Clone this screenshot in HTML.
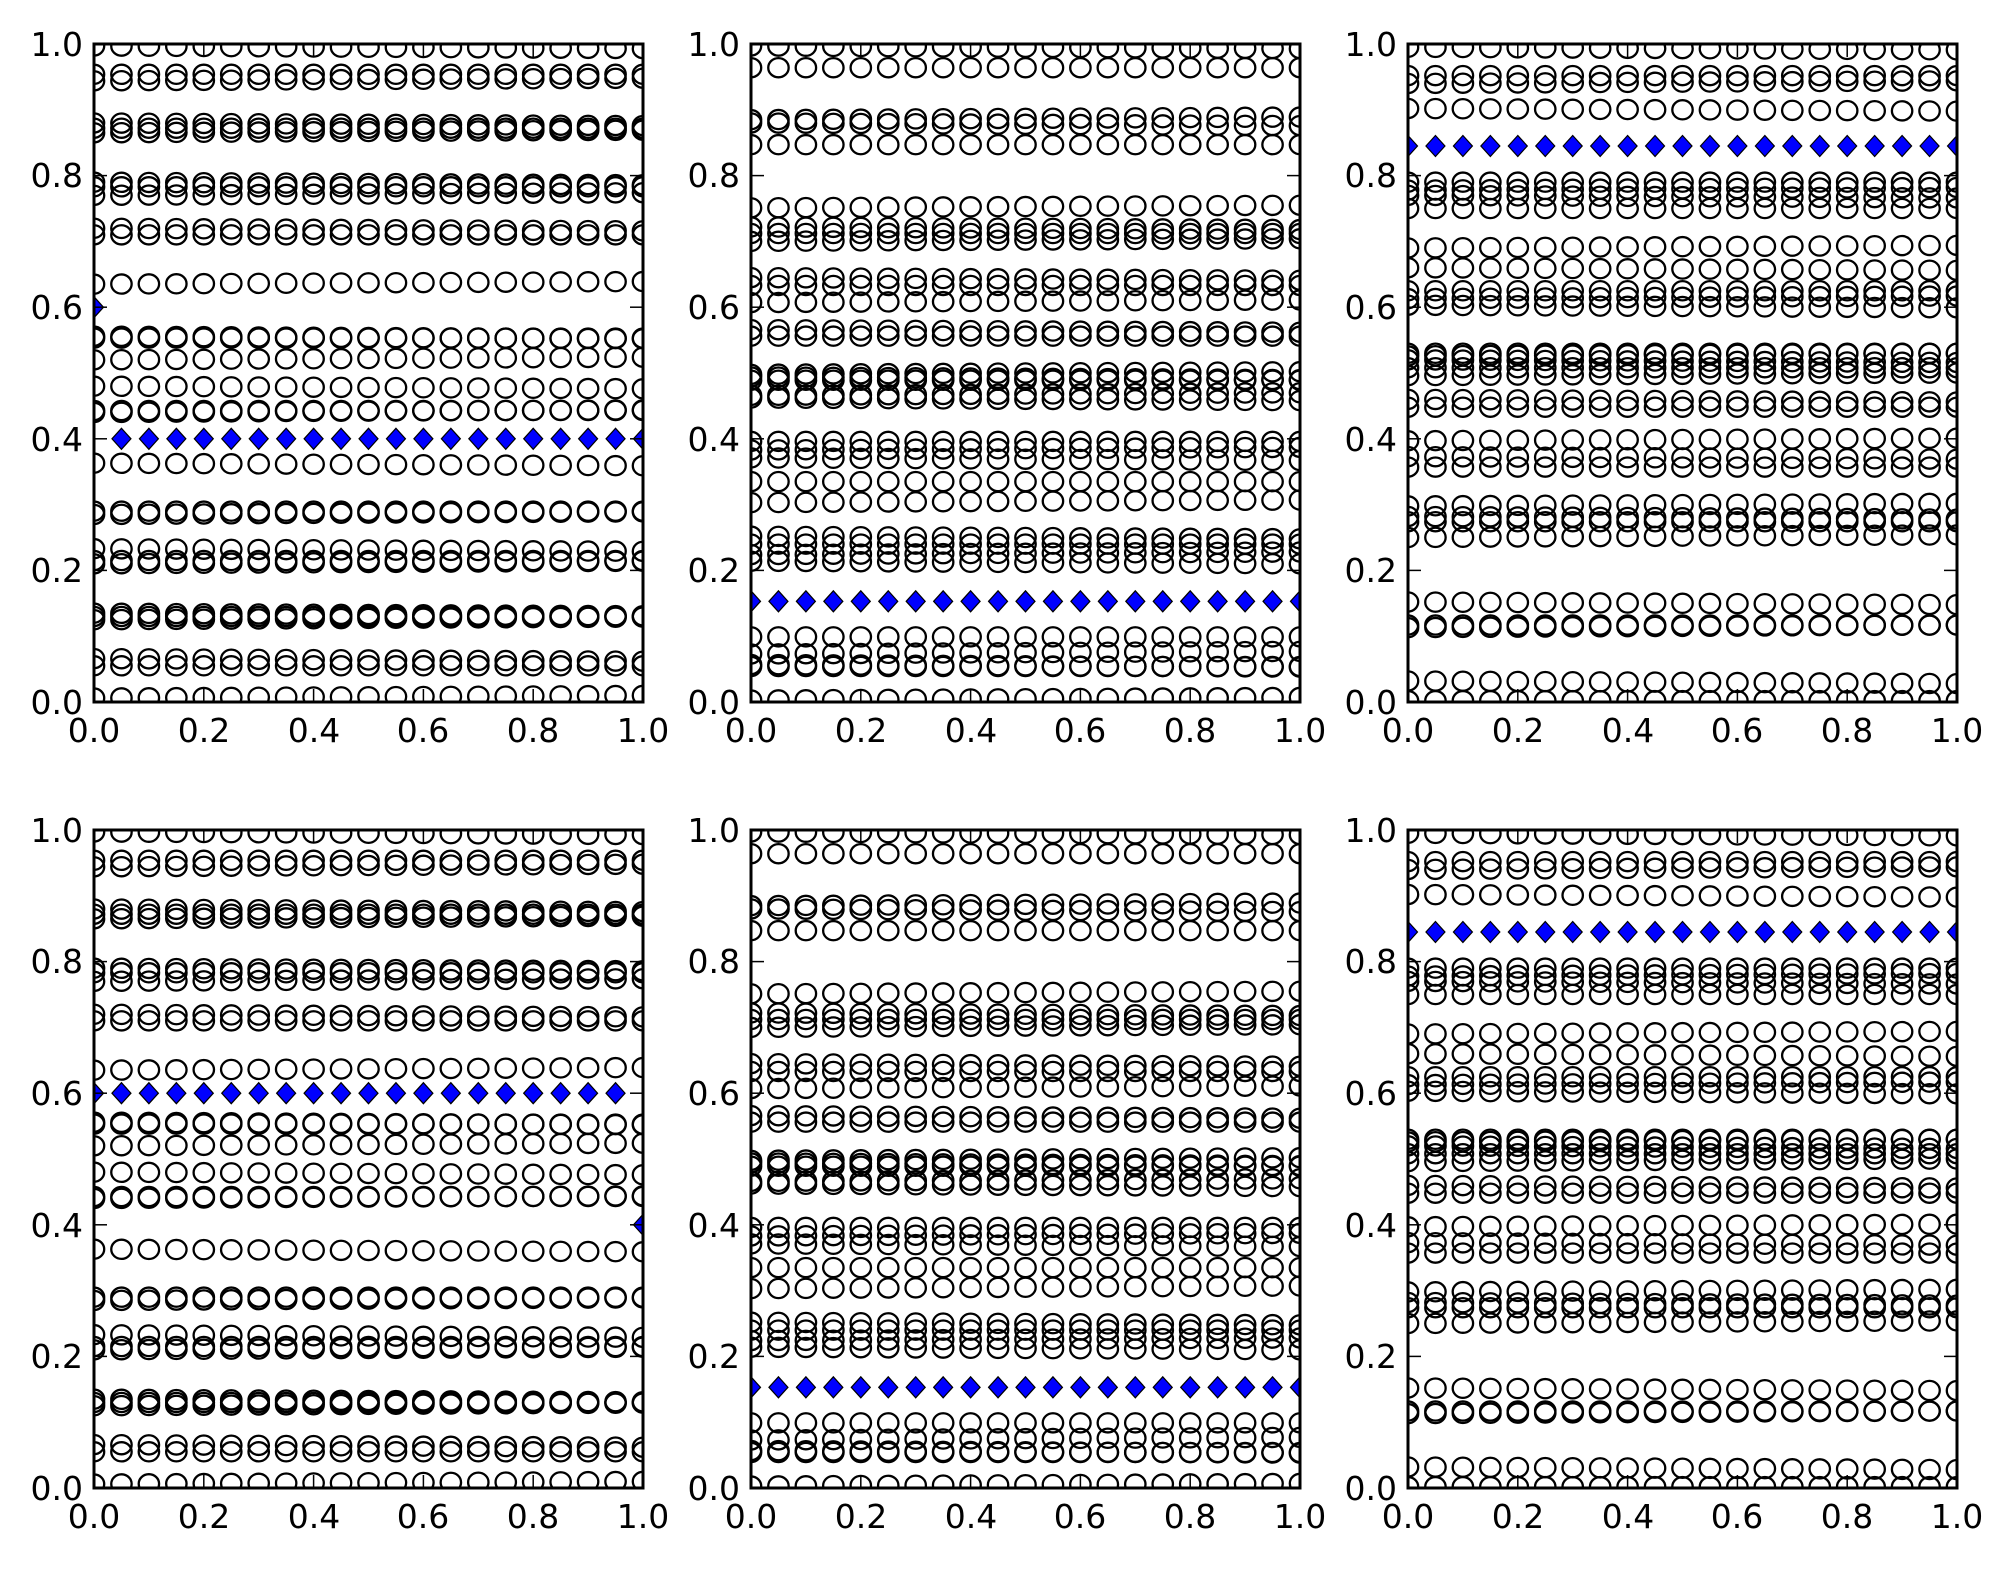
<!DOCTYPE html>
<html><head><meta charset="utf-8"><style>
html,body{margin:0;padding:0;background:#fff;}
svg text{font-family:"DejaVu Sans","Liberation Sans",sans-serif;font-size:33px;fill:#000;}
</style></head><body>
<svg id="s" width="2004" height="1565" xmlns="http://www.w3.org/2000/svg">
<rect width="2004" height="1565" fill="#fff"/>
<g id="lbl">
<text x="83" y="56" text-anchor="end">1.0</text><text x="83" y="187" text-anchor="end">0.8</text><text x="83" y="319" text-anchor="end">0.6</text><text x="83" y="451" text-anchor="end">0.4</text><text x="83" y="582" text-anchor="end">0.2</text><text x="83" y="714" text-anchor="end">0.0</text>
<text x="94" y="742" text-anchor="middle">0.0</text><text x="204" y="742" text-anchor="middle">0.2</text><text x="314" y="742" text-anchor="middle">0.4</text><text x="423" y="742" text-anchor="middle">0.6</text><text x="533" y="742" text-anchor="middle">0.8</text><text x="643" y="742" text-anchor="middle">1.0</text>
<text x="740" y="56" text-anchor="end">1.0</text><text x="740" y="187" text-anchor="end">0.8</text><text x="740" y="319" text-anchor="end">0.6</text><text x="740" y="451" text-anchor="end">0.4</text><text x="740" y="582" text-anchor="end">0.2</text><text x="740" y="714" text-anchor="end">0.0</text>
<text x="751" y="742" text-anchor="middle">0.0</text><text x="861" y="742" text-anchor="middle">0.2</text><text x="971" y="742" text-anchor="middle">0.4</text><text x="1080" y="742" text-anchor="middle">0.6</text><text x="1190" y="742" text-anchor="middle">0.8</text><text x="1300" y="742" text-anchor="middle">1.0</text>
<text x="1397" y="56" text-anchor="end">1.0</text><text x="1397" y="187" text-anchor="end">0.8</text><text x="1397" y="319" text-anchor="end">0.6</text><text x="1397" y="451" text-anchor="end">0.4</text><text x="1397" y="582" text-anchor="end">0.2</text><text x="1397" y="714" text-anchor="end">0.0</text>
<text x="1408" y="742" text-anchor="middle">0.0</text><text x="1518" y="742" text-anchor="middle">0.2</text><text x="1628" y="742" text-anchor="middle">0.4</text><text x="1737" y="742" text-anchor="middle">0.6</text><text x="1847" y="742" text-anchor="middle">0.8</text><text x="1957" y="742" text-anchor="middle">1.0</text>
<text x="83" y="842" text-anchor="end">1.0</text><text x="83" y="973" text-anchor="end">0.8</text><text x="83" y="1105" text-anchor="end">0.6</text><text x="83" y="1237" text-anchor="end">0.4</text><text x="83" y="1368" text-anchor="end">0.2</text><text x="83" y="1500" text-anchor="end">0.0</text>
<text x="94" y="1528" text-anchor="middle">0.0</text><text x="204" y="1528" text-anchor="middle">0.2</text><text x="314" y="1528" text-anchor="middle">0.4</text><text x="423" y="1528" text-anchor="middle">0.6</text><text x="533" y="1528" text-anchor="middle">0.8</text><text x="643" y="1528" text-anchor="middle">1.0</text>
<text x="740" y="842" text-anchor="end">1.0</text><text x="740" y="973" text-anchor="end">0.8</text><text x="740" y="1105" text-anchor="end">0.6</text><text x="740" y="1237" text-anchor="end">0.4</text><text x="740" y="1368" text-anchor="end">0.2</text><text x="740" y="1500" text-anchor="end">0.0</text>
<text x="751" y="1528" text-anchor="middle">0.0</text><text x="861" y="1528" text-anchor="middle">0.2</text><text x="971" y="1528" text-anchor="middle">0.4</text><text x="1080" y="1528" text-anchor="middle">0.6</text><text x="1190" y="1528" text-anchor="middle">0.8</text><text x="1300" y="1528" text-anchor="middle">1.0</text>
<text x="1397" y="842" text-anchor="end">1.0</text><text x="1397" y="973" text-anchor="end">0.8</text><text x="1397" y="1105" text-anchor="end">0.6</text><text x="1397" y="1237" text-anchor="end">0.4</text><text x="1397" y="1368" text-anchor="end">0.2</text><text x="1397" y="1500" text-anchor="end">0.0</text>
<text x="1408" y="1528" text-anchor="middle">0.0</text><text x="1518" y="1528" text-anchor="middle">0.2</text><text x="1628" y="1528" text-anchor="middle">0.4</text><text x="1737" y="1528" text-anchor="middle">0.6</text><text x="1847" y="1528" text-anchor="middle">0.8</text><text x="1957" y="1528" text-anchor="middle">1.0</text>
</g>
</svg>
<script>
(function(){
var NS="http://www.w3.org/2000/svg",svg=document.getElementById("s");
function el(t,a,p){var e=document.createElementNS(NS,t);for(var k in a)e.setAttribute(k,a[k]);(p||svg).appendChild(e);return e;}
var A=[0.997,0.954,0.944,0.88,0.872,0.865,0.79,0.783,0.77,0.72,0.71,0.635,0.556,0.553,0.52,0.48,0.443,0.44,0.363,0.29,0.285,0.233,0.215,0.21,0.135,0.13,0.125,0.066,0.055,0.006];
var B=[0.997,0.964,0.885,0.88,0.847,0.751,0.722,0.712,0.7,0.645,0.633,0.607,0.566,0.556,0.498,0.494,0.489,0.466,0.462,0.396,0.383,0.371,0.335,0.303,0.252,0.24,0.224,0.214,0.099,0.073,0.057,0.054,0.003];
var C=[0.995,0.952,0.94,0.902,0.79,0.778,0.77,0.75,0.69,0.66,0.625,0.613,0.603,0.53,0.526,0.52,0.508,0.496,0.46,0.448,0.397,0.373,0.357,0.298,0.282,0.274,0.25,0.152,0.117,0.113,0.032,0.002];
var P=[
 {x:94,y:44,rows:A,dy:0.4,dx0:0.05,dx1:1,extra:[[0,0.6]]},
 {x:751,y:44,rows:B,dy:0.153,dx0:0,dx1:1,extra:[]},
 {x:1408,y:44,rows:C,dy:0.845,dx0:0,dx1:1,extra:[]},
 {x:94,y:830,rows:A,dy:0.6,dx0:0,dx1:0.95,extra:[[1,0.4]]},
 {x:751,y:830,rows:B,dy:0.153,dx0:0,dx1:1,extra:[]},
 {x:1408,y:830,rows:C,dy:0.845,dx0:0,dx1:1,extra:[]}
];
var W=549,H=658;
P.forEach(function(p,i){
  var cid="c"+i;
  var d=el("defs",{});var cp=el("clipPath",{id:cid},d);el("rect",{x:p.x,y:p.y,width:W,height:H},cp);
  var g=el("g",{"clip-path":"url(#"+cid+")"});
  p.rows.forEach(function(r,ri){
    if(i==3&&r==0.4)return;
    for(var k=0;k<=20;k++){
      var sl=((ri%3)-1)*0.004*(k/20);
      var cx=p.x+k*0.05*W, cy=p.y+(1-r-sl)*H;
      el("ellipse",{cx:cx,cy:cy,rx:10.2,ry:9.6,fill:"none",stroke:"#000","stroke-width":2.3},g);
    }
  });
  function dia(xv,yv){var cx=p.x+xv*W,cy=p.y+(1-yv)*H;
    el("polygon",{points:(cx-9.5)+","+cy+" "+cx+","+(cy-10.5)+" "+(cx+9.5)+","+cy+" "+cx+","+(cy+10.5),fill:"#0000ff",stroke:"#000","stroke-width":1.2},g);}
  for(var k=0;k<=20;k++){var xv=k*0.05;if(xv>=p.dx0-1e-9&&xv<=p.dx1+1e-9)dia(xv,p.dy);}
  p.extra.forEach(function(e){dia(e[0],e[1]);});
  for(var t=0;t<=5;t++){
    var tx=p.x+t*0.2*W,ty=p.y+(1-t*0.2)*H;
    el("line",{x1:tx,y1:p.y+H,x2:tx,y2:p.y+H-13,stroke:"#000","stroke-width":1.5});
    el("line",{x1:tx,y1:p.y,x2:tx,y2:p.y+13,stroke:"#000","stroke-width":1.5});
    el("line",{x1:p.x,y1:ty,x2:p.x+13,y2:ty,stroke:"#000","stroke-width":1.5});
    el("line",{x1:p.x+W,y1:ty,x2:p.x+W-13,y2:ty,stroke:"#000","stroke-width":1.5});
  }
  el("rect",{x:p.x,y:p.y,width:W,height:H,fill:"none",stroke:"#000","stroke-width":3});
});
})();
</script>
</body></html>
